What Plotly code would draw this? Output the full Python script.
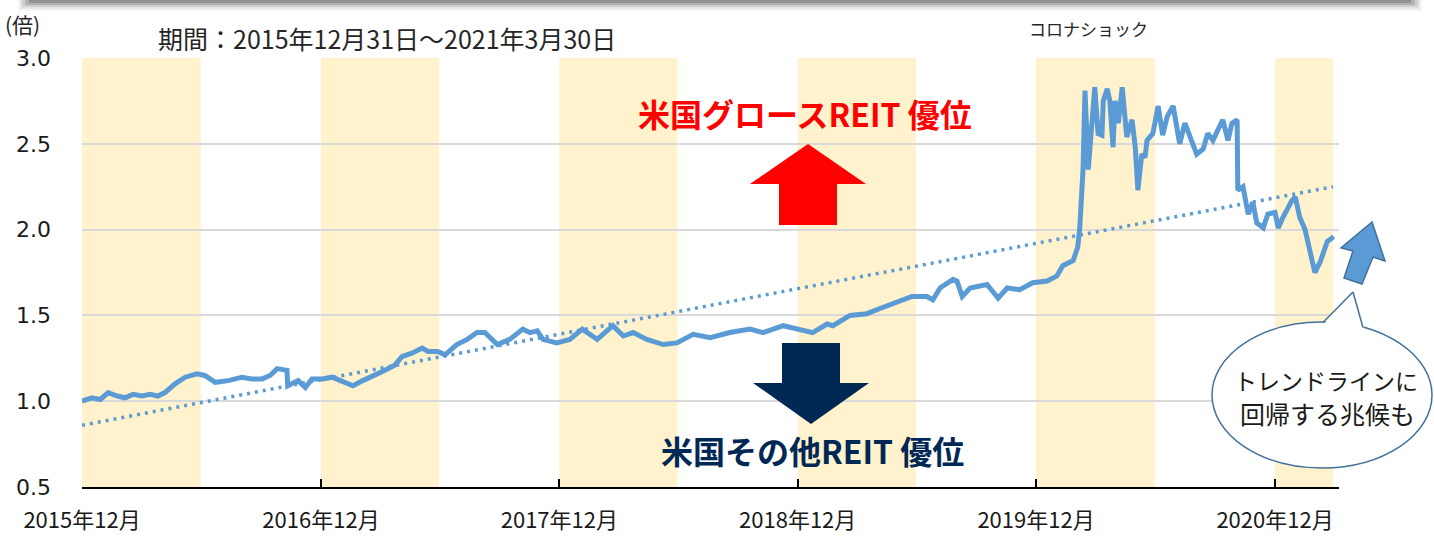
import plotly.graph_objects as go

# ---------------- data ----------------
dates = [
    "2015-12-31", "2016-01-15", "2016-01-28", "2016-02-09", "2016-02-23", "2016-03-06", "2016-03-18",
    "2016-04-01", "2016-04-13", "2016-04-25", "2016-05-06", "2016-05-21", "2016-06-06", "2016-06-24",
    "2016-07-06", "2016-07-22", "2016-08-11", "2016-09-01", "2016-09-16", "2016-10-02", "2016-10-14",
    "2016-10-25", "2016-11-09", "2016-11-10", "2016-11-26", "2016-12-07", "2016-12-17", "2017-01-02",
    "2017-01-17", "2017-02-03", "2017-02-18", "2017-03-05", "2017-03-24", "2017-04-08", "2017-04-23",
    "2017-05-04", "2017-05-19", "2017-06-04", "2017-06-13", "2017-06-28", "2017-07-09", "2017-07-16",
    "2017-07-27", "2017-08-12", "2017-08-27", "2017-09-08", "2017-09-27", "2017-10-16", "2017-11-05",
    "2017-11-16", "2017-11-27", "2017-12-06", "2017-12-27", "2018-01-16", "2018-02-04", "2018-02-27",
    "2018-03-23", "2018-04-08", "2018-04-23", "2018-05-14", "2018-06-08", "2018-06-29", "2018-07-24",
    "2018-08-19", "2018-09-18", "2018-10-19", "2018-11-08", "2018-12-09", "2019-01-08", "2019-01-23",
    "2019-02-14", "2019-02-23", "2019-03-21", "2019-04-16", "2019-05-06", "2019-06-01", "2019-06-24",
    "2019-07-17", "2019-07-26", "2019-08-06", "2019-08-26", "2019-09-01", "2019-09-09", "2019-09-21",
    "2019-10-17", "2019-11-03", "2019-11-17", "2019-12-06", "2019-12-26", "2020-01-17", "2020-02-01",
    "2020-02-10", "2020-02-26", "2020-03-04", "2020-03-07", "2020-03-12", "2020-03-15", "2020-03-20",
    "2020-03-26", "2020-03-30", "2020-04-04", "2020-04-10", "2020-04-12", "2020-04-18", "2020-04-22",
    "2020-04-27", "2020-04-30", "2020-05-05", "2020-05-11", "2020-05-18", "2020-05-26", "2020-05-31",
    "2020-06-04", "2020-06-10", "2020-06-15", "2020-06-18", "2020-06-27", "2020-07-05", "2020-07-12",
    "2020-07-19", "2020-07-28", "2020-08-07", "2020-08-15", "2020-08-23", "2020-09-02", "2020-09-12",
    "2020-09-19", "2020-09-27", "2020-10-12", "2020-10-20", "2020-10-26", "2020-11-03", "2020-11-04",
    "2020-11-12", "2020-11-20", "2020-11-27", "2020-12-03", "2020-12-13", "2020-12-20", "2020-12-31",
    "2021-01-05", "2021-01-12", "2021-01-26", "2021-01-31", "2021-02-07", "2021-02-15", "2021-02-23",
    "2021-03-02", "2021-03-10", "2021-03-21", "2021-03-28", "2021-03-30",
]
ratio = [
    1.00, 1.02, 1.01, 1.05, 1.03, 1.02, 1.04,
    1.03, 1.04, 1.03, 1.05, 1.10, 1.14, 1.16,
    1.15, 1.11, 1.12, 1.14, 1.13, 1.13, 1.15,
    1.19, 1.18, 1.09, 1.12, 1.08, 1.13, 1.13,
    1.14, 1.11, 1.09, 1.12, 1.15, 1.18, 1.21,
    1.26, 1.28, 1.31, 1.29, 1.29, 1.27, 1.29,
    1.33, 1.36, 1.40, 1.40, 1.33, 1.36, 1.42,
    1.40, 1.41, 1.36, 1.34, 1.36, 1.42, 1.36,
    1.44, 1.38, 1.40, 1.36, 1.33, 1.34, 1.39,
    1.37, 1.40, 1.42, 1.40, 1.44, 1.41, 1.40,
    1.45, 1.44, 1.50, 1.51, 1.54, 1.58, 1.61,
    1.61, 1.59, 1.66, 1.71, 1.70, 1.61, 1.66,
    1.68, 1.60, 1.66, 1.65, 1.69, 1.70, 1.73,
    1.79, 1.82, 1.90, 2.01, 2.35, 2.81, 2.35,
    2.60, 2.83, 2.56, 2.55, 2.75, 2.82, 2.75,
    2.48, 2.75, 2.62, 2.83, 2.54, 2.64, 2.48,
    2.23, 2.44, 2.42, 2.52, 2.56, 2.72, 2.55,
    2.66, 2.72, 2.50, 2.62, 2.54, 2.44, 2.47,
    2.56, 2.52, 2.64, 2.52, 2.62, 2.64, 2.23,
    2.25, 2.09, 2.16, 2.04, 2.01, 2.09, 2.10,
    2.01, 2.07, 2.17, 2.19, 2.07, 2.00, 1.88,
    1.75, 1.81, 1.93, 1.95, 1.94,
]

trend_dates = ["2015-12-31", "2021-03-30"]
trend_values = [0.86, 2.25]

band_starts = ["2015-12-31", "2016-12-31", "2017-12-31", "2018-12-31", "2019-12-31", "2020-12-31"]
band_ends = ["2016-06-30", "2017-06-30", "2018-06-30", "2019-06-30", "2020-06-30", "2021-03-30"]

tick_dates = ["2015-12-31", "2016-12-31", "2017-12-31", "2018-12-31", "2019-12-31", "2020-12-31"]
tick_labels = ["2015年12月", "2016年12月", "2017年12月", "2018年12月", "2019年12月", "2020年12月"]
y_ticks = [0.5, 1.0, 1.5, 2.0, 2.5, 3.0]

# ---------------- layout helpers ----------------
W, H = 1434, 538
L, R, T, B = 82, 95, 58, 51
PW, PH = W - L - R, H - T - B


def px(x):
    return (x - L) / PW


def py(y):
    return (H - B - y) / PH


def poly(points):
    s = "M " + " L ".join(f"{px(x):.5f},{py(y):.5f}" for x, y in points) + " Z"
    return s


JP = "Noto Sans CJK JP"
BLUE = "#5B9BD5"
NAVY = "#002855"

fig = go.Figure()

fig.add_trace(go.Scatter(
    x=dates, y=ratio, mode="lines",
    line=dict(color=BLUE, width=5), hoverinfo="skip", showlegend=False,
))
fig.add_trace(go.Scatter(
    x=trend_dates, y=trend_values, mode="lines",
    line=dict(color=BLUE, width=3.5, dash="3px,5px"), hoverinfo="skip", showlegend=False,
))

shapes = []
for s, e in zip(band_starts, band_ends):
    shapes.append(dict(type="rect", xref="x", yref="paper", x0=s, x1=e, y0=0, y1=1,
                       fillcolor="#FFF2CC", line=dict(width=0), layer="between"))

# top shadow of the slide element above
for y1, a, inset in [(11, 0.05, 0), (9, 0.08, 2), (7, 0.12, 4), (5, 0.18, 7), (3, 0.25, 11)]:
    shapes.append(dict(type="rect", xref="paper", yref="paper",
                       x0=px(18 + inset), x1=px(1422 - inset), y0=py(-10), y1=py(y1),
                       fillcolor=f"rgba(50,50,50,{a})", line=dict(width=0), layer="above"))

# red up arrow
shapes.append(dict(type="path", xref="paper", yref="paper", layer="above",
                   path=poly([(808, 144), (866, 184), (837, 184), (837, 225), (779, 225), (779, 184), (750, 184)]),
                   fillcolor="#FF0000", line=dict(width=0)))
# navy down arrow
shapes.append(dict(type="path", xref="paper", yref="paper", layer="above",
                   path=poly([(782, 343), (840, 343), (840, 383), (869, 383), (811, 424), (753, 383), (782, 383)]),
                   fillcolor=NAVY, line=dict(width=0)))
# blue tilted arrow
shapes.append(dict(type="path", xref="paper", yref="paper", layer="above",
                   path=poly([(1372, 222), (1385, 261), (1373, 257), (1362, 284), (1344, 278), (1353, 251), (1341, 248)]),
                   fillcolor=BLUE, line=dict(color="#41719C", width=1.5)))
# speech bubble
shapes.append(dict(type="circle", xref="paper", yref="paper", layer="above",
                   x0=px(1212), x1=px(1432), y0=py(468), y1=py(322),
                   fillcolor="white", line=dict(color="#41719C", width=1.5)))
shapes.append(dict(type="path", xref="paper", yref="paper", layer="above",
                   path=poly([(1321, 327), (1353, 292), (1365, 332)]),
                   fillcolor="white", line=dict(width=0)))
shapes.append(dict(type="line", xref="paper", yref="paper", layer="above",
                   x0=px(1323), y0=py(322.5), x1=px(1353), y1=py(292),
                   line=dict(color="#41719C", width=1.5)))
shapes.append(dict(type="line", xref="paper", yref="paper", layer="above",
                   x0=px(1353), y0=py(292), x1=px(1363), y1=py(327.5),
                   line=dict(color="#41719C", width=1.5)))

annotations = [
    dict(text="(倍)", x=px(3), y=py(24), xanchor="left", yanchor="middle",
         font=dict(family=JP, size=21, color="#262626")),
    dict(text="期間：2015年12月31日～2021年3月30日", x=px(156), y=py(38), xanchor="left", yanchor="middle",
         font=dict(family=JP, size=25, color="#262626")),
    dict(text="コロナショック", x=px(1088), y=py(29), xanchor="center", yanchor="middle",
         font=dict(family=JP, size=17, color="#262626")),
    dict(text="<b>米国グロースREIT 優位</b>", x=px(805), y=py(113), xanchor="center", yanchor="middle",
         font=dict(family=JP, size=32, color="#FF0000")),
    dict(text="<b>米国その他REIT 優位</b>", x=px(812), y=py(450), xanchor="center", yanchor="middle",
         font=dict(family=JP, size=32, color=NAVY)),
    dict(text="トレンドラインに", x=px(1326), y=py(380), xanchor="center", yanchor="middle",
         font=dict(family=JP, size=23, color="#1A1A1A")),
    dict(text="回帰する兆候も", x=px(1327), y=py(413), xanchor="center", yanchor="middle",
         font=dict(family=JP, size=25, color="#1A1A1A")),
]
for a in annotations:
    a.update(xref="paper", yref="paper", showarrow=False)

fig.update_layout(
    width=W, height=H,
    margin=dict(l=L, r=R, t=T, b=B, autoexpand=False),
    paper_bgcolor="white", plot_bgcolor="white",
    shapes=shapes, annotations=annotations,
    showlegend=False,
    xaxis=dict(
        type="date", range=["2015-12-31", "2021-04-08"],
        tickmode="array", tickvals=tick_dates, ticktext=tick_labels,
        ticks="inside", ticklen=8, tickwidth=1.5, tickcolor="black",
        showline=True, linecolor="black", linewidth=2,
        showgrid=False, zeroline=False, automargin=False,
        tickfont=dict(family=JP, size=22, color="#1A1A1A"),
        ticklabelstandoff=13,
    ),
    yaxis=dict(
        range=[0.5, 3.0], tickmode="array", tickvals=y_ticks,
        ticktext=[f"{v:.1f}" for v in y_ticks],
        showgrid=True, gridcolor="#D9D9D9", gridwidth=2,
        showline=False, zeroline=False, ticks="", automargin=False,
        tickfont=dict(family="DejaVu Sans", size=22, color="#1A1A1A"),
        ticklabelstandoff=30,
    ),
)

fig.write_html("out.html", config={"displayModeBar": False},
               post_script="document.body.style.margin='0';")
